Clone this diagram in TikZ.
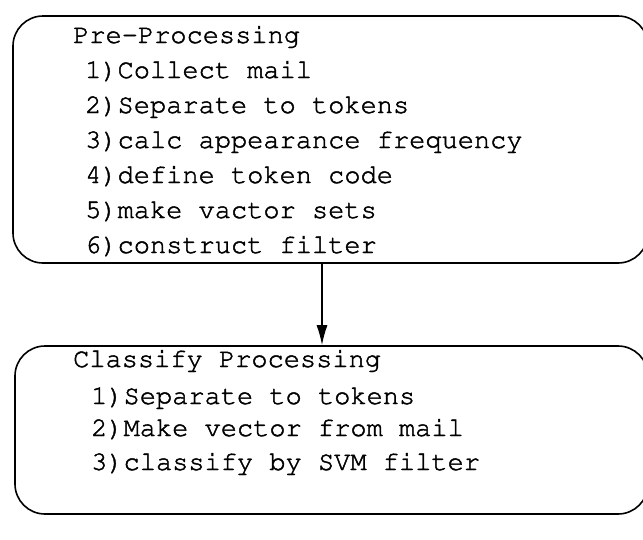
\documentclass[tikz,border=0pt]{standalone}
\usepackage[T1]{fontenc}
\usepackage{courier}
\usetikzlibrary{arrows.meta}
\newcommand\heavytext[1]{\special{pdf:literal q 2 Tr 0.45 w}#1\special{pdf:literal Q}}
\tikzset{
  procbox/.style={draw, line width=1.6pt, rounded corners=30pt, inner sep=0pt},
  txt/.style={anchor=base west, inner sep=0pt, font=\fontsize{27pt}{27pt}\ttfamily},
  conn/.style={line width=1.4pt, -{Latex[length=20pt,width=11pt]}}
}
\begin{document}
\begin{tikzpicture}[x=1pt,y=-1pt]
\useasboundingbox (0,0) rectangle (643,539);
\clip (0,0) rectangle (643,539);
\node[procbox, minimum width=635pt, minimum height=247pt] (pre) at (330.5,139.5) {};
\node[procbox, minimum width=633pt, minimum height=168pt] (cls) at (331.5,430) {};
\node[txt] (t0) at (73,43) {\heavytext{Pre-Processing}};
\node[txt] (t1) at (85,78) {\heavytext{1)Collect mail}};
\node[txt] (t2) at (85,113) {\heavytext{2)Separate to tokens}};
\node[txt] (t3) at (85,148) {\heavytext{3)calc appearance frequency}};
\node[txt] (t4) at (85,183) {\heavytext{4)define token code}};
\node[txt] (t5) at (85,218) {\heavytext{5)make vactor sets}};
\node[txt] (t6) at (85,253) {\heavytext{6)construct filter}};
\node[txt] (c0) at (73,367) {\heavytext{Classify Processing}};
\node[txt] (c1) at (91,404) {\heavytext{1)Separate to tokens}};
\node[txt] (c2) at (91,436) {\heavytext{2)Make vector from mail}};
\node[txt] (c3) at (91,470) {\heavytext{3)classify by SVM filter}};
\coordinate (ax) at (322,300);
\draw[conn] (pre.south -| ax) -- (cls.north -| ax);
\end{tikzpicture}
\end{document}
